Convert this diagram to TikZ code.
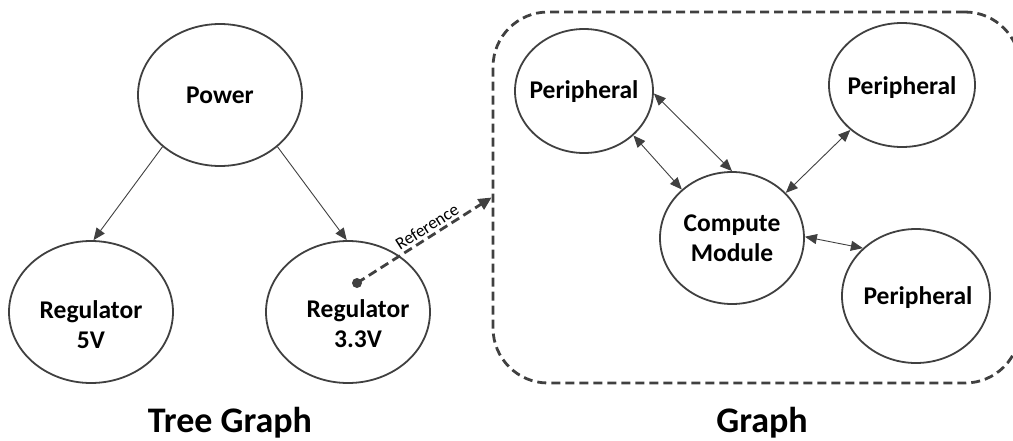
\documentclass[tikz,border=0pt]{standalone}
\usepackage{fontspec}
\setmainfont{Carlito}
\usetikzlibrary{shapes.geometric,arrows.meta}
\definecolor{ink}{HTML}{404040}
\tikzset{
  blob/.style={ellipse, draw=ink, line width=1.8pt, inner sep=0pt, fill=white},
  txt/.style={font=\fontsize{25.5}{30}\selectfont\bfseries, align=center, inner sep=0pt},
  title/.style={font=\fontsize{36}{42}\selectfont\bfseries, anchor=base, inner sep=0pt},
  link/.style={draw=ink, line width=0.9pt, -{Triangle[length=12pt,width=10pt]}},
  twoway/.style={draw=ink, line width=0.9pt, {Triangle[length=12pt,width=10pt]}-{Triangle[length=12pt,width=10pt]}},
  frame/.style={draw=ink, line width=2.8pt, dash pattern=on 9pt off 5pt, rounded corners=55pt, inner sep=0pt},
  refline/.style={draw=ink, line width=2.8pt, dash pattern=on 9pt off 5pt, -{Triangle[length=13pt,width=12pt]}},
  dot/.style={circle, fill=ink, inner sep=0pt, minimum size=10pt}
}
\begin{document}
\begin{tikzpicture}[x=1pt,y=-1pt]
\useasboundingbox (0,0) rectangle (1013,440);
\clip (0,0) rectangle (1013,440);

% dashed container of the graph
\node[frame, minimum width=527pt, minimum height=371pt] (grp) at (756.5,197.5) {};

% tree graph
\node[blob, minimum width=164pt, minimum height=142pt] (pw) at (220,95) {};
\node[blob, minimum width=164pt, minimum height=142pt] (r5) at (91,312) {};
\node[blob, minimum width=164pt, minimum height=142pt] (r3) at (348,312) {};
\node[txt] (pwt) at (220,95) {Power};
\node[txt] (r5t) at (91,325) {Regulator\\5V};
\node[txt] (r3t) at (358,324) {Regulator\\3.3V};

\draw[link] (pw.222) -- (r5.88);
\draw[link] (pw.318.6) -- (r3.91);

% graph
\node[blob, minimum width=138pt, minimum height=124pt] (p1) at (584,91) {};
\node[blob, minimum width=146pt, minimum height=124pt] (p2) at (902,85) {};
\node[blob, minimum width=144pt, minimum height=132pt] (cm) at (732,238) {};
\node[blob, minimum width=148pt, minimum height=134pt] (p3) at (916,296) {};
\node[txt] (p1t) at (584,92) {Peripheral};
\node[txt] (p2t) at (902,88) {Peripheral};
\node[txt] (cmt) at (732,238) {Compute\\Module};
\node[txt] (p3t) at (918,298) {Peripheral};

\draw[twoway] (p1.358) -- (cm.90);
\draw[twoway] (p1.318) -- (cm.136);
\draw[twoway] (p2.221) -- (cm.40);
\draw[twoway] (cm.1) -- (p3.138);

% reference from the tree into the graph
\node[dot] (refdot) at (357,283) {};
\draw[refline] (refdot.center) -- node[sloped, above, pos=0.56, inner sep=2.5pt, font=\fontsize{17.5}{20}\selectfont] (reflbl) {Reference} (grp.west);

% titles
\node[title] (tt) at (230,432) {Tree Graph};
\node[title] (gt) at (762,432) {Graph};
\end{tikzpicture}
\end{document}
